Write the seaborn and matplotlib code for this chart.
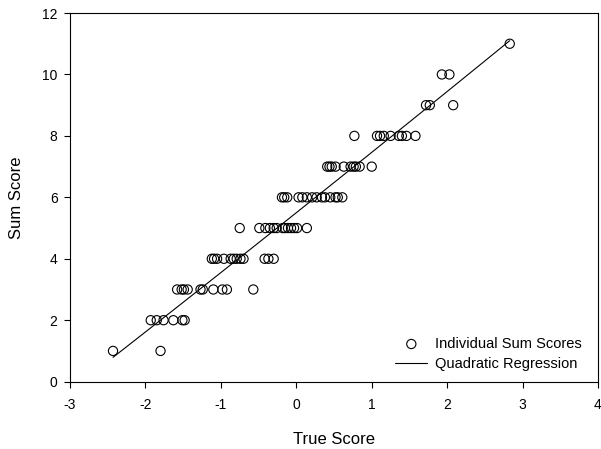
import numpy as np
import pandas as pd
import matplotlib
matplotlib.use("Agg")
import matplotlib.pyplot as plt
import seaborn as sns

# true score (x) for each sum score level (y)
true_1 = [-2.43, -1.80]
true_2 = [-1.93, -1.85, -1.76, -1.63, -1.51, -1.48]
true_3 = [-1.58, -1.52, -1.49, -1.44, -1.27, -1.24, -1.10, -0.98, -0.92, -0.57]
true_4 = [-1.12, -1.09, -1.05, -0.96, -0.87, -0.83, -0.79, -0.74, -0.70, -0.42, -0.37, -0.30]
true_5 = [-0.75, -0.49, -0.41, -0.35, -0.30, -0.26, -0.18, -0.15, -0.11, -0.07, -0.03, 0.01, 0.14]
true_6 = [-0.19, -0.16, -0.12, 0.03, 0.08, 0.14, 0.21, 0.27, 0.34, 0.38, 0.45, 0.52, 0.55, 0.61]
true_7 = [0.41, 0.44, 0.47, 0.52, 0.63, 0.72, 0.76, 0.79, 0.84, 1.00]
true_8 = [0.77, 1.07, 1.11, 1.16, 1.25, 1.36, 1.40, 1.46, 1.58]
true_9 = [1.72, 1.77, 2.08]
true_10 = [1.93, 2.03]
true_11 = [2.83]

levels = [true_1, true_2, true_3, true_4, true_5, true_6, true_7, true_8, true_9, true_10, true_11]
rows = []
for score, xs in enumerate(levels, start=1):
    for t in xs:
        rows.append((t, score))
df = pd.DataFrame(rows, columns=["true", "sum"])

sns.set_style("white")
plt.rcParams['font.family'] = ['Liberation Sans', 'DejaVu Sans']
plt.rcParams['axes.unicode_minus'] = False
plt.rcParams['text.color'] = 'black'
plt.rcParams['axes.labelcolor'] = 'black'
plt.rcParams['xtick.color'] = 'black'
plt.rcParams['ytick.color'] = 'black'

fig, ax = plt.subplots(figsize=(6.01, 4.49), dpi=100)
fig.subplots_adjust(left=0.1165, right=0.995, top=0.971, bottom=0.150)

sns.scatterplot(data=df, x="true", y="sum", ax=ax, marker="o", s=44,
                facecolor="none", edgecolor="black", linewidth=0.8,
                label="Individual Sum Scores")
sns.regplot(data=df, x="true", y="sum", ax=ax, order=2, ci=None, scatter=False,
            line_kws={"color": "black", "linewidth": 0.8}, label="Quadratic Regression")

ax.set_xlim(-3, 4)
ax.set_ylim(0, 12)
ax.set_xticks(range(-3, 5))
ax.set_yticks(range(0, 13, 2))
ax.set_xlabel("True Score", fontsize=12, labelpad=14)
ax.set_ylabel("Sum Score", fontsize=12, labelpad=13)
ax.tick_params(axis="both", direction="out", length=4, width=0.8, labelsize=10,
               bottom=True, left=True, color="black", labelcolor="black")
ax.tick_params(axis="x", pad=8)
ax.tick_params(axis="y", pad=5)
for sp in ax.spines.values():
    sp.set_color("black")
    sp.set_linewidth(0.8)

ax.legend(loc="lower right", bbox_to_anchor=(0.981, 0.012), borderaxespad=0,
          frameon=False, fontsize=10.5, handlelength=2.2, handletextpad=0.55,
          labelspacing=0.45)

fig.savefig("out.png", dpi=100)
